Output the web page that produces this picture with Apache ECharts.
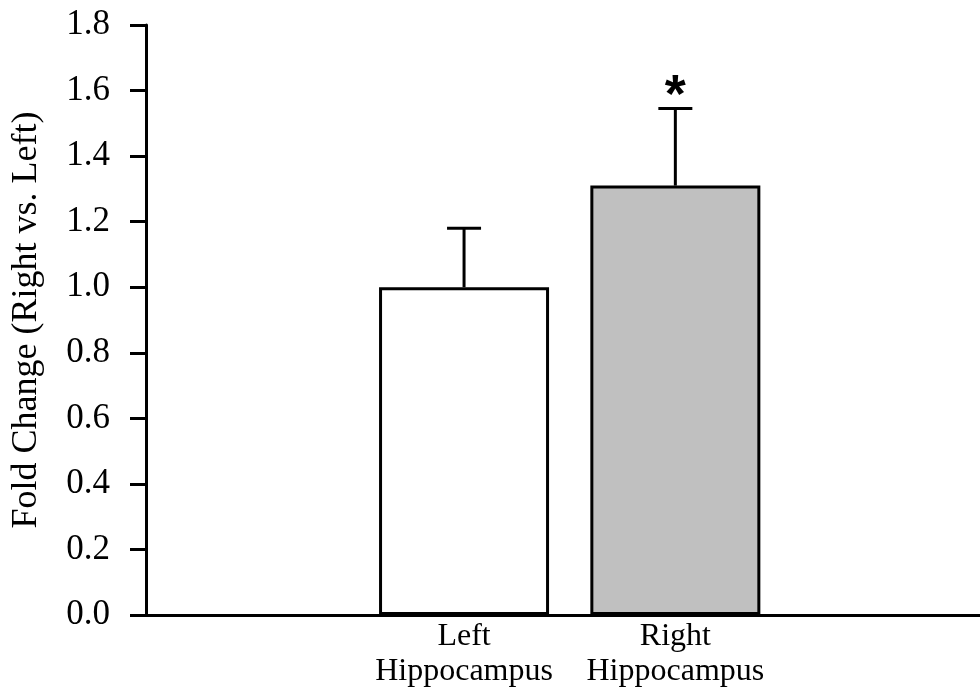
<!DOCTYPE html>
<html>
<head>
<meta charset="utf-8">
<script src="https://cdn.jsdelivr.net/npm/echarts@6/dist/echarts.min.js"></script>
<style>
html,body{margin:0;padding:0;background:#fff;}
#chart{width:980px;height:688px;}
</style>
</head>
<body>
<div id="chart"></div>
<script>
const categories = ['Left\nHippocampus', 'Right\nHippocampus'];
const means = [1.00, 1.31];
const errors = [0.18, 0.235];
const significance = ['', '*'];
const barColors = ['#ffffff', '#c0c0c0'];
const yTicks = { min: 0, max: 1.8, interval: 0.2 };
const yTitle = 'Fold Change (Right vs. Left)';

const FONT = 'Liberation Serif';
const chart = echarts.init(document.getElementById('chart'), null, { renderer: 'canvas' });

const gridTop = 25, gridBottom = 73;

const option = {
  backgroundColor: '#ffffff',
  animation: false,
  grid: [
    { left: 146, right: 0, top: gridTop, bottom: gridBottom, containLabel: false, outerBoundsMode: 'none' },
    { left: 358.4, right: 199, top: gridTop, bottom: gridBottom, containLabel: false, outerBoundsMode: 'none' }
  ],
  xAxis: [
    {
      gridIndex: 0, type: 'value', min: 0, max: 1,
      axisLine: { show: true, lineStyle: { color: '#000', width: 3 } },
      axisTick: { show: false }, axisLabel: { show: false }, splitLine: { show: false }
    },
    {
      gridIndex: 1, type: 'category', data: categories,
      axisLine: { show: false }, axisTick: { show: false }, splitLine: { show: false },
      axisLabel: { interval: 0, hideOverlap: false, color: '#000', fontFamily: FONT, fontSize: 32, lineHeight: 35, margin: 4 }
    }
  ],
  yAxis: [
    {
      gridIndex: 0, type: 'value', min: yTicks.min, max: yTicks.max, interval: yTicks.interval,
      name: yTitle, nameLocation: 'middle', nameGap: 101, nameRotate: 90,
      nameTextStyle: { color: '#000', fontFamily: FONT, fontSize: 36 },
      axisLine: { show: true, lineStyle: { color: '#000', width: 3 } },
      axisTick: { show: true, inside: false, length: 16, lineStyle: { color: '#000', width: 3 } },
      axisLabel: { color: '#000', fontFamily: FONT, fontSize: 35, margin: 36, formatter: v => v.toFixed(1) },
      splitLine: { show: false }
    },
    {
      gridIndex: 1, type: 'value', min: yTicks.min, max: yTicks.max, interval: yTicks.interval,
      show: false, splitLine: { show: false }
    }
  ],
  series: [
    {
      type: 'bar', xAxisIndex: 1, yAxisIndex: 1, barWidth: 170,
      data: means.map((v, i) => ({ value: v, itemStyle: { color: barColors[i], borderColor: '#000', borderWidth: 3 } })),
      z: 2
    },
    {
      type: 'custom', xAxisIndex: 1, yAxisIndex: 1, z: 3,
      data: means.map((v, i) => [i, v, v + errors[i], significance[i]]),
      renderItem: function (params, api) {
        const c = api.value(0);
        const base = api.coord([c, api.value(1)]);
        const top = api.coord([c, api.value(2)]);
        const sig = significance[params.dataIndex];
        const half = 17;
        const children = [
          { type: 'line', shape: { x1: base[0], y1: base[1], x2: top[0], y2: top[1] }, style: { stroke: '#000', lineWidth: 3 } },
          { type: 'line', shape: { x1: top[0] - half, y1: top[1], x2: top[0] + half, y2: top[1] }, style: { stroke: '#000', lineWidth: 3 } }
        ];
        if (sig) {
          children.push({
            type: 'text',
            style: { x: top[0], y: top[1] - 11, text: sig, fill: '#000', font: 'bold 54px "Liberation Sans"', align: 'center', verticalAlign: 'middle' }
          });
        }
        return { type: 'group', children: children };
      }
    }
  ]
};
chart.setOption(option);
</script>
</body>
</html>
